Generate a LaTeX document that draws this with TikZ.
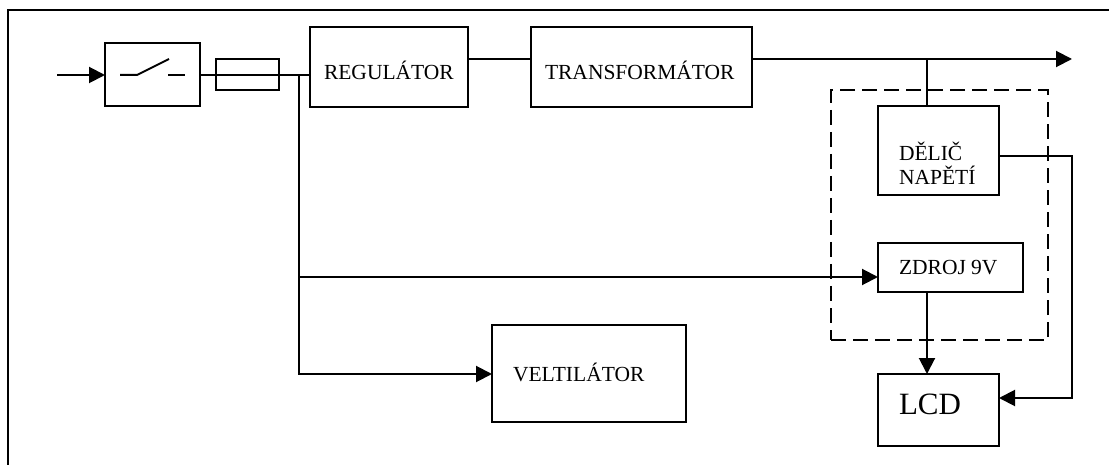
\documentclass[tikz,border=0pt]{standalone}
\usepackage{fontspec}
\setmainfont{Liberation Serif}
\usetikzlibrary{arrows.meta}
\tikzset{
  blockbox/.style={draw=black,line width=2pt,outer sep=0pt,inner sep=0pt,font=\fontsize{21.5}{24}\selectfont},
  wire/.style={draw=black,line width=2pt},
  arrowwire/.style={wire,-{Triangle[length=16pt,width=16pt]}},
  framing/.style={draw=black,line width=2pt},
  dashbox/.style={draw=black,line width=2pt,dash pattern=on 15pt off 7pt,outer sep=0pt}
}
% box width, left offset, baseline drop, text
\newcommand{\blocktext}[4]{\makebox[#1pt][l]{\hspace{#2pt}\raisebox{-#3pt}[0pt][0pt]{#4}}}
\begin{document}
\begin{tikzpicture}[x=1pt,y=-1pt]
\useasboundingbox (0,0) rectangle (1109,465);
\draw[framing] (8,465) -- (8,10) -- (1109,10);
% blocks
\node[blockbox,minimum width=95pt,minimum height=63pt] (sw) at (152.5,74.5) {};
\node[blockbox,minimum width=63pt,minimum height=31pt] (fuse) at (247.5,74.5) {};
\node[blockbox,minimum width=158pt,minimum height=80pt] (reg) at (389,67) {\blocktext{158}{14}{13}{REGULÁTOR}};
\node[blockbox,minimum width=221pt,minimum height=80pt] (tr) at (641.5,67) {\blocktext{221}{14}{13}{TRANSFORMÁTOR}};
\node[blockbox,minimum width=121pt,minimum height=89pt] (del) at (938.5,150.5) {\makebox[121pt][l]{\hspace{21pt}\rlap{\raisebox{-10.5pt}[0pt][0pt]{DĚLIČ}}\raisebox{-34.5pt}[0pt][0pt]{NAPĚTÍ}}};
\node[blockbox,minimum width=145pt,minimum height=49pt] (zdroj) at (950.5,267.5) {\blocktext{145}{21}{7.5}{ZDROJ 9V}};
\node[blockbox,minimum width=121pt,minimum height=72pt,font=\fontsize{31}{34}\selectfont] (lcd) at (938.5,410) {\blocktext{121}{21}{4}{LCD}};
\node[blockbox,minimum width=194pt,minimum height=97pt] (ven) at (589,373.5) {\blocktext{194}{21}{7.5}{VELTILÁTOR}};
\node[dashbox,minimum width=217pt,minimum height=250pt] (group) at (939.5,215) {};
% coordinates
\coordinate (in) at (57,75);
\coordinate (main) at (299,75);
\coordinate (out) at (1072,59);
\coordinate (tap) at (927,59);
\coordinate (busright) at (1072,156);
\coordinate (lcdin) at (1072,398);
\coordinate (zin) at (299,277);
\coordinate (vin) at (299,374);
\coordinate (s1) at (120,75);
\coordinate (s2) at (137,75);
\coordinate (s3) at (169,59);
\coordinate (s4) at (168,75);
\coordinate (s5) at (185,75);
% switch
\draw[wire] (s1) -- (s2) -- (s3);
\draw[wire] (s4) -- (s5);
% connectors
\draw[arrowwire] (in) -- (in -| sw.west);
\draw[wire] (sw.east |- main) -- (reg.west |- main);
\draw[wire] (reg.east |- out) -- (tr.west |- out);
\draw[arrowwire] (tr.east |- out) -- (out);
\draw[wire] (tap) -- (tap |- del.north);
\draw[arrowwire] (main) -- (vin) -- (vin -| ven.west);
\draw[arrowwire] (zin) -- (zin -| zdroj.west);
\draw[arrowwire] (tap |- zdroj.south) -- (tap |- lcd.north);
\draw[arrowwire] (del.east |- busright) -- (busright) -- (lcdin) -- (lcdin -| lcd.east);
\end{tikzpicture}
\end{document}
